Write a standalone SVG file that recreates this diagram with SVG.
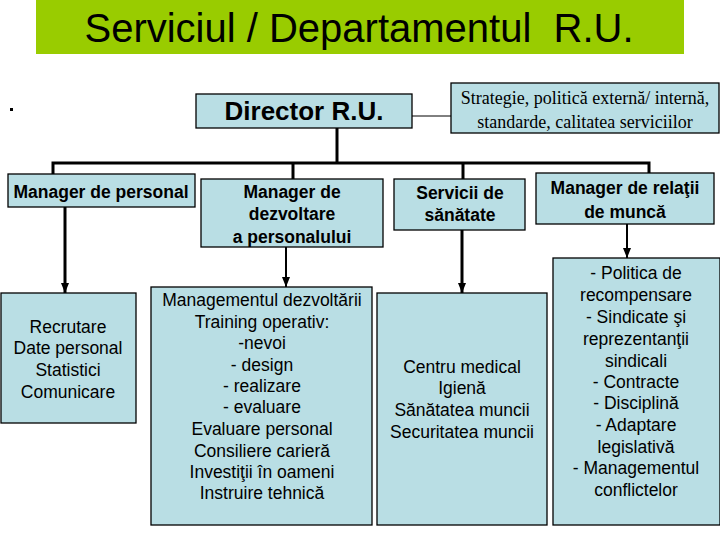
<svg xmlns="http://www.w3.org/2000/svg" width="720" height="540" viewBox="0 0 720 540">
<style>
.box{fill:#B9DEE4;stroke:#000;stroke-width:1.3}
.t{font-family:"Liberation Sans",Arial,sans-serif;font-size:17.5px;fill:#000;text-anchor:middle}
.b{font-weight:bold;font-size:17.5px}
.d{font-weight:bold;font-size:26px}
.s{font-family:"Liberation Serif","Times New Roman",serif;font-size:18px;fill:#000;text-anchor:middle}
.line{stroke:#000;fill:none}
</style>
<defs>
<marker id="ah" markerUnits="userSpaceOnUse" markerWidth="10" markerHeight="10" viewBox="0 0 10 10" refX="10" refY="5" orient="auto">
<path d="M0,1 L10,5 L0,9 Z" fill="#000"/>
</marker>
</defs>
<rect width="720" height="540" fill="#fff"/>
<g id="title">
<rect x="36" y="0" width="648" height="54" fill="#99CC00"/>
<text x="359" y="42" font-family="'Liberation Sans',Arial,sans-serif" font-size="40" text-anchor="middle" fill="#000" xml:space="preserve">Serviciul / Departamentul  R.U.</text>
</g>
<rect x="10" y="108" width="3" height="3" fill="#000"/>
<g id="connectors">
<line class="line" x1="412" y1="116" x2="451" y2="116" stroke-width="1"/>
<line class="line" x1="337" y1="128" x2="337" y2="164" stroke-width="3"/>
<polyline class="line" points="53,174 53,163 649,163 649,173" stroke-width="3"/>
<line class="line" x1="293" y1="163" x2="293" y2="179" stroke-width="3"/>
<line class="line" x1="463" y1="163" x2="463" y2="179" stroke-width="3"/>
<line class="line" x1="65" y1="207" x2="65" y2="293" stroke-width="3" marker-end="url(#ah)"/>
<line class="line" x1="286" y1="247" x2="286" y2="287" stroke-width="2" marker-end="url(#ah)"/>
<line class="line" x1="462" y1="230" x2="462" y2="293" stroke-width="3" marker-end="url(#ah)"/>
<line class="line" x1="627" y1="224" x2="627" y2="258" stroke-width="2" marker-end="url(#ah)"/>
</g>
<g id="director">
<rect class="box" x="196" y="94" width="216" height="34"/>
<text x="304" y="120" class="t d">Director R.U.</text>
</g>
<g id="strategie">
<rect class="box" x="451" y="83" width="268" height="50"/>
<text x="585" y="104" class="s">Strategie, politică externă/ internă,</text>
<text x="585" y="128" class="s">standarde, calitatea serviciilor</text>
</g>
<g id="manager-personal">
<rect class="box" x="8" y="174" width="187" height="33"/>
<text x="101" y="198" class="t b">Manager de personal</text>
</g>
<g id="manager-dezvoltare">
<rect class="box" x="201" y="179" width="182" height="68"/>
<text x="292" y="198" class="t b">Manager de</text>
<text x="292" y="220" class="t b">dezvoltare</text>
<text x="292" y="243" class="t b">a personalului</text>
</g>
<g id="servicii-sanatate">
<rect class="box" x="394" y="179" width="131" height="51"/>
<text x="460" y="199" class="t b">Servicii de</text>
<text x="460" y="221" class="t b">sănătate</text>
</g>
<g id="manager-relatii">
<rect class="box" x="536" y="173" width="178" height="51"/>
<text x="625" y="194" class="t b">Manager de relaţii</text>
<text x="625" y="218" class="t b">de muncă</text>
</g>
<g id="recrutare">
<rect class="box" x="1" y="293" width="135" height="130"/>
<text x="68" y="333" class="t">Recrutare</text>
<text x="68" y="354" class="t">Date personal</text>
<text x="68" y="376" class="t">Statistici</text>
<text x="68" y="398" class="t">Comunicare</text>
</g>
<g id="managementul">
<rect class="box" x="151" y="287" width="221" height="238"/>
<text x="262" y="306" class="t">Managementul dezvoltării</text>
<text x="262" y="328" class="t">Training operativ:</text>
<text x="262" y="349" class="t">-nevoi</text>
<text x="262" y="371" class="t">- design</text>
<text x="262" y="392" class="t">- realizare</text>
<text x="262" y="413" class="t">- evaluare</text>
<text x="262" y="435" class="t">Evaluare personal</text>
<text x="262" y="457" class="t">Consiliere carieră</text>
<text x="262" y="478" class="t">Investiţii în oameni</text>
<text x="262" y="499" class="t">Instruire tehnică</text>
</g>
<g id="centru">
<rect class="box" x="377" y="293" width="170" height="232"/>
<text x="462" y="373" class="t">Centru medical</text>
<text x="462" y="394" class="t">Igienă</text>
<text x="462" y="416" class="t">Sănătatea muncii</text>
<text x="462" y="438" class="t">Securitatea muncii</text>
</g>
<g id="politica">
<rect class="box" x="553" y="258" width="167" height="267"/>
<text x="636" y="279" class="t">- Politica de</text>
<text x="636" y="301" class="t">recompensare</text>
<text x="636" y="323" class="t">- Sindicate şi</text>
<text x="636" y="345" class="t">reprezentanţii</text>
<text x="636" y="367" class="t">sindicali</text>
<text x="636" y="388" class="t">- Contracte</text>
<text x="636" y="409" class="t">- Disciplină</text>
<text x="636" y="431" class="t">- Adaptare</text>
<text x="636" y="453" class="t">legislativă</text>
<text x="636" y="474" class="t">- Managementul</text>
<text x="636" y="496" class="t">conflictelor</text>
</g>
</svg>
